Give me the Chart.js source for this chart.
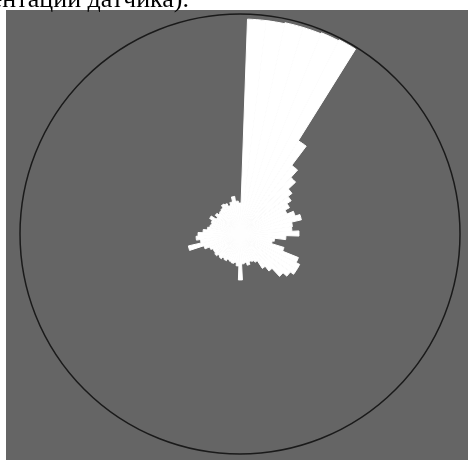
<!DOCTYPE html>
<html>
<head>
<meta charset="utf-8">
<script src="https://cdn.jsdelivr.net/npm/chart.js@4/dist/chart.umd.min.js"></script>
<style>
  html, body { margin: 0; padding: 0; background: #fff; }
  #wrap { width: 468px; height: 460px; position: relative; }
</style>
</head>
<body>
<div id="wrap"><canvas id="c" width="468" height="460"></canvas></div>
<script>
// Bin start directions (degrees clockwise from north), 5° bins
const binStarts = [
  2, 7, 12, 17, 22, 27, 32, 37, 42, 47, 52, 57,
  62, 67, 72, 77, 82, 87, 92, 97, 102, 107, 112, 117,
  122, 127, 132, 137, 142, 147, 152, 157, 162, 167, 172, 177,
  182, 187, 192, 197, 202, 207, 212, 217, 222, 227, 232, 237,
  242, 247, 252, 257, 262, 267, 272, 277, 282, 287, 292, 297,
  302, 307, 312, 317, 322, 327, 332, 337, 342, 347, 352, 357
];
// Histogram magnitude per bin (scale max = 220)
const binValues = [
  215, 215, 216, 216, 217, 218, 110, 86, 76, 66, 61, 56,
  51, 58, 63, 53, 52, 59, 46, 35, 33, 46, 63, 67,
  67, 63, 58, 47, 41, 32, 30, 29, 32, 29, 30, 46,
  32, 29, 30, 29, 28, 30, 29, 31, 30, 32, 31, 31,
  33, 38, 53, 40, 44, 42, 37, 33, 31, 30, 31, 34,
  28, 31, 29, 30, 31, 34, 33, 30, 33, 38, 33, 31
];
const radialMax = 220;
const captionText = 'ориентации датчика).';

const labels = binStarts.map(d => d + '°');

const bgPlugin = {
  id: 'bg',
  beforeDraw(chart) {
    const ctx = chart.ctx;
    ctx.save();
    ctx.fillStyle = '#ffffff';
    ctx.fillRect(0, 0, chart.width, chart.height);
    ctx.fillStyle = '#656565';
    ctx.fillRect(6, 10, chart.width - 6, chart.height - 10);
    ctx.fillStyle = '#000000';
    ctx.font = '26px "Liberation Serif", "DejaVu Serif", serif';
    ctx.textAlign = 'right';
    ctx.textBaseline = 'alphabetic';
    ctx.fillText(captionText, 189, 7);
    ctx.restore();
  }
};

new Chart(document.getElementById('c'), {
  type: 'polarArea',
  data: {
    labels: labels,
    datasets: [{
      data: binValues,
      backgroundColor: '#ffffff',
      borderColor: '#ffffff',
      borderWidth: 1
    }]
  },
  options: {
    responsive: false,
    animation: false,
    layout: { padding: { left: 20, right: 8, top: 14, bottom: 6 } },
    plugins: {
      legend: { display: false },
      tooltip: { enabled: false },
      title: { display: false }
    },
    scales: {
      r: {
        min: 0,
        max: radialMax,
        startAngle: 2,
        ticks: { display: false, stepSize: radialMax },
        grid: { color: '#1a1a1a', lineWidth: 1.5 },
        angleLines: { display: false },
        pointLabels: { display: false }
      }
    }
  },
  plugins: [bgPlugin]
});
</script>
</body>
</html>
